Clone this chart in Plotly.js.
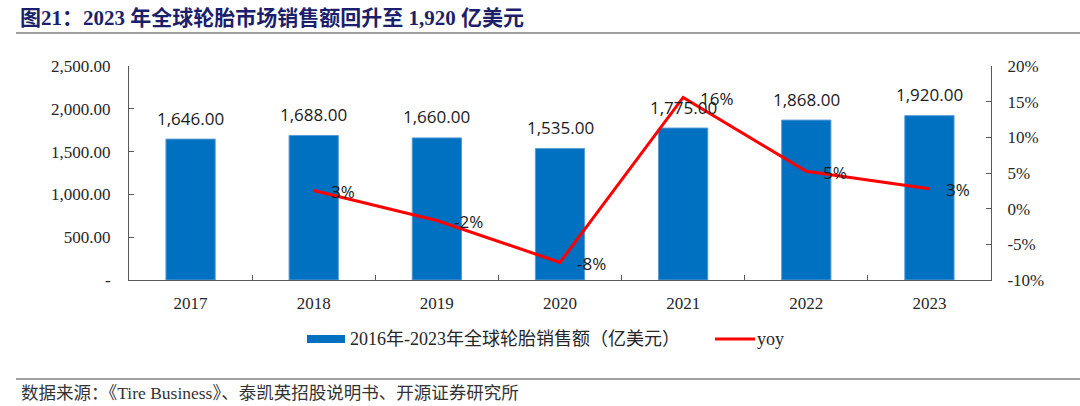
<!DOCTYPE html>
<html>
<head>
<meta charset="utf-8">
<script src="https://cdn.plot.ly/plotly-3.0.1.min.js"></script>
<style>html,body{margin:0;padding:0;background:#fff;}#chart{width:1080px;height:406px;}</style>
</head>
<body>
<div id="chart"></div>
<script>
const years = ['2017', '2018', '2019', '2020', '2021', '2022', '2023'];
const sales = [1646, 1688, 1660, 1535, 1775, 1868, 1920];
const yoyYears = ['2018', '2019', '2020', '2021', '2022', '2023'];
const yoy = [0.0255, -0.0166, -0.0753, 0.156, 0.0524, 0.0278];
const yoyLabels = ['3%', '-2%', '-8%', '16%', '5%', '3%'];
const leftTickVals = [0, 500, 1000, 1500, 2000, 2500];
const leftTickText = ['-', '500.00', '1,000.00', '1,500.00', '2,000.00', '2,500.00'];
const rightTickVals = [-0.10, -0.05, 0, 0.05, 0.10, 0.15, 0.20];
const rightTickText = ['-10%', '-5%', '0%', '5%', '10%', '15%', '20%'];
const barName = '2016年-2023年全球轮胎销售额（亿美元）';
const lineName = 'yoy';
const titleText = '图21：2023 年全球轮胎市场销售额回升至 1,920 亿美元';
const sourceText = '数据来源：《Tire Business》、泰凯英招股说明书、开源证券研究所';

const serif = 'Liberation Serif, Times New Roman, Noto Sans CJK SC, serif';
const sans = 'Open Sans, Noto Sans, sans-serif';
const axisColor = '#595959';
const textColor = '#262626';

// pixel helpers for paper coordinates
const L = 129, R = 991, T = 66, B = 280;
const px = x => (x - L) / (R - L);
const py = y => (B - y) / (B - T);

const traces = [
  {
    type: 'bar', x: years, y: sales, name: barName,
    marker: {color: '#0070C0', line: {color: '#5A9BD5', width: 1}},
    width: 0.4, showlegend: false, hoverinfo: 'x+y'
  },
  {
    type: 'scatter', mode: 'lines', x: yoyYears, y: yoy, name: lineName, yaxis: 'y2',
    line: {color: '#FF0000', width: 3}, showlegend: false
  }
];

const annotations = [];
years.forEach((yr, i) => {
  annotations.push({
    x: i, y: sales[i], xref: 'x', yref: 'y',
    text: sales[i].toLocaleString('en-US', {minimumFractionDigits: 2, maximumFractionDigits: 2}),
    showarrow: false, yanchor: 'middle', yshift: 21, font: {family: sans, size: 17, color: '#1a1a1a'}
  });
});
yoyYears.forEach((yr, i) => {
  annotations.push({
    x: years.indexOf(yr), y: yoy[i], xref: 'x', yref: 'y2', text: yoyLabels[i],
    showarrow: false, xanchor: 'left', yanchor: 'middle', xshift: 15, yshift: -1,
    font: {family: sans, size: 17, color: '#1a1a1a'}
  });
});
// legend texts
annotations.push({xref: 'paper', yref: 'paper', x: px(348), y: py(339), xanchor: 'left', yanchor: 'middle',
  text: barName, showarrow: false, font: {family: serif, size: 18, color: textColor}});
annotations.push({xref: 'paper', yref: 'paper', x: px(755), y: py(339), xanchor: 'left', yanchor: 'middle',
  text: lineName, showarrow: false, font: {family: serif, size: 18, color: textColor}});
// source
annotations.push({xref: 'paper', yref: 'paper', x: px(19), y: py(393), xanchor: 'left', yanchor: 'middle',
  text: sourceText, showarrow: false, font: {family: serif, size: 17.5, color: '#333333'}});

const shapes = [
  {type: 'rect', xref: 'paper', yref: 'paper', x0: px(307), x1: px(345), y0: py(343), y1: py(335),
    fillcolor: '#0070C0', line: {width: 0}},
  {type: 'line', xref: 'paper', yref: 'paper', x0: px(715), x1: px(755), y0: py(339), y1: py(339),
    line: {color: '#FF0000', width: 3}},
  {type: 'line', xref: 'paper', yref: 'paper', x0: px(16), x1: px(1080), y0: py(33), y1: py(33),
    line: {color: '#808080', width: 1.5}},
  {type: 'line', xref: 'paper', yref: 'paper', x0: px(16), x1: px(1080), y0: py(379), y1: py(379),
    line: {color: '#808080', width: 1.5}}
];

const layout = {
  width: 1080, height: 406,
  margin: {l: L, r: 1080 - R, t: T, b: 406 - B, pad: 0},
  paper_bgcolor: '#ffffff', plot_bgcolor: '#ffffff',
  title: {text: '<b>' + titleText + '</b>', xref: 'container', yref: 'container', x: 20 / 1080, xanchor: 'left',
    y: 1 - 18 / 406, yanchor: 'middle', font: {family: serif, size: 21, color: '#1C1F6B'}},
  showlegend: false,
  xaxis: {
    type: 'category', range: [-0.5, years.length - 0.5], autorange: false,
    showline: true, linecolor: axisColor, linewidth: 1, mirror: false,
    ticks: 'inside', tickson: 'boundaries', ticklen: 5, tickcolor: axisColor,
    showgrid: false, zeroline: false, ticklabelstandoff: 8, tickangle: 0,
    tickfont: {family: serif, size: 17, color: textColor}
  },
  yaxis: {
    range: [0, 2500], autorange: false, tickvals: leftTickVals, ticktext: leftTickText,
    showline: true, linecolor: axisColor, linewidth: 1,
    ticks: 'inside', ticklen: 5, tickcolor: axisColor, showgrid: false, zeroline: false,
    ticklabelstandoff: 14, tickfont: {family: serif, size: 17, color: textColor}
  },
  yaxis2: {
    overlaying: 'y', side: 'right', range: [-0.10, 0.20], autorange: false,
    tickvals: rightTickVals, ticktext: rightTickText,
    showline: true, linecolor: axisColor, linewidth: 1,
    ticks: 'inside', ticklen: 5, tickcolor: axisColor, showgrid: false, zeroline: false,
    ticklabelstandoff: 12, tickfont: {family: serif, size: 17, color: textColor}
  },
  annotations: annotations,
  shapes: shapes
};

Plotly.newPlot('chart', traces, layout, {displayModeBar: false, staticPlot: true});
</script>
</body>
</html>
